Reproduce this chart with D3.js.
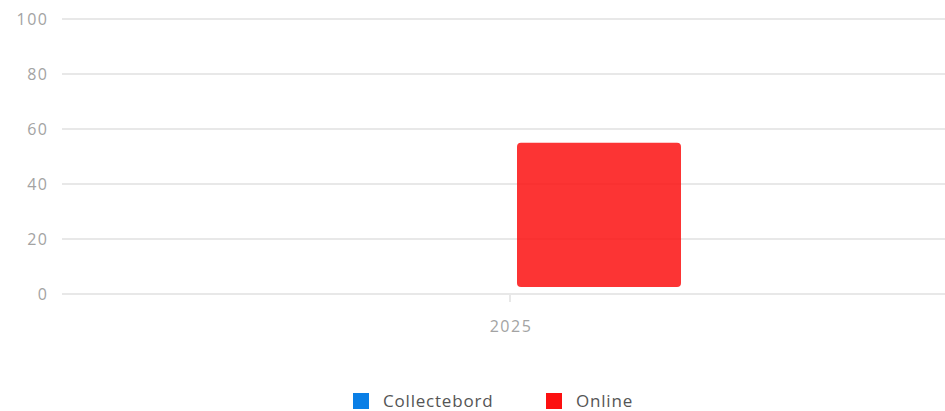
<!DOCTYPE html>
<html>
<head>
<meta charset="utf-8">
<script src="https://cdn.jsdelivr.net/npm/d3@7"></script>
<style>
body { margin: 0; background: #fff; }
text { font-family: "Open Sans", "Lato", sans-serif; }
</style>
</head>
<body>
<script>
// data
var categories = ["2025"];
var seriesNames = ["Collectebord", "Online"];
var seriesColors = ["#0a7fe6", "#fc1010"];
var collectebord = [0];
var online = [55];
var yTicks = [0, 20, 40, 60, 80, 100];

var w = 945, h = 411;
var gridLeft = 62, plotRight = 945, plotTop = 19, plotBottom = 294;

var svg = d3.select("body").append("svg")
	.attr("width", w)
	.attr("height", h);

var y = d3.scaleLinear().domain([0, 100]).range([plotBottom, plotTop]);
var x = d3.scaleBand().domain(categories).range([75, plotRight]);

// grid
svg.append("g").selectAll("line")
	.data(yTicks).enter().append("line")
	.attr("x1", gridLeft).attr("x2", plotRight)
	.attr("y1", function(d) { return y(d); })
	.attr("y2", function(d) { return y(d); })
	.attr("stroke", "#e8e8e8")
	.attr("stroke-width", 2);

// y labels
svg.append("g").selectAll("text")
	.data(yTicks).enter().append("text")
	.attr("x", 48.5)
	.attr("y", function(d) { return y(d); })
	.attr("dy", "0.35em")
	.attr("text-anchor", "end")
	.attr("fill", "#a3a3a3")
	.style("font-size", "16px")
	.style("letter-spacing", "1.5px")
	.text(function(d) { return d; });

// x tick + label
var xAxis = svg.append("g");
categories.forEach(function(c) {
	var cx = x(c) + x.bandwidth() / 2;
	xAxis.append("line")
		.attr("x1", cx).attr("x2", cx)
		.attr("y1", plotBottom).attr("y2", plotBottom + 8)
		.attr("stroke", "#e8e8e8").attr("stroke-width", 2);
	xAxis.append("text")
		.attr("x", cx + 1).attr("y", plotBottom + 38)
		.attr("text-anchor", "middle")
		.attr("fill", "#a3a3a3")
		.style("font-size", "16px")
		.style("letter-spacing", "1.5px")
		.text(c);
});

// bars
var barW = 164, shift = 7, bottomGap = 7;
var inner = d3.scaleBand().domain(seriesNames).paddingInner(0);
var values = [collectebord, online];
categories.forEach(function(c, ci) {
	var cx = x(c) + x.bandwidth() / 2 + shift;
	inner.range([cx - barW, cx + barW]);
	seriesNames.forEach(function(s, si) {
		var v = values[si][ci];
		if (!v) return;
		svg.append("rect")
			.attr("x", inner(s))
			.attr("y", y(v))
			.attr("width", inner.bandwidth())
			.attr("height", y(0) - bottomGap - y(v))
			.attr("rx", 4)
			.attr("fill", seriesColors[si])
			.attr("fill-opacity", 0.85);
	});
});

// legend
var legendX = [353, 546];
var legend = svg.append("g");
seriesNames.forEach(function(s, i) {
	legend.append("rect")
		.attr("x", legendX[i]).attr("y", 393)
		.attr("width", 16).attr("height", 16)
		.attr("fill", seriesColors[i]);
	legend.append("text")
		.attr("x", legendX[i] + 30).attr("y", 401)
		.attr("dy", "0.35em")
		.attr("fill", "#555")
		.style("font-size", "17px")
		.style("letter-spacing", "0.8px")
		.text(s);
});
</script>
</body>
</html>
